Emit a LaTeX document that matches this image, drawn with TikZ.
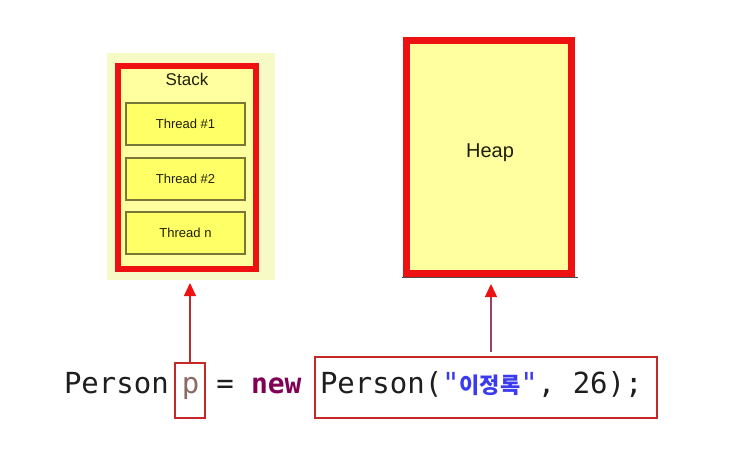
\documentclass[tikz,border=0pt]{standalone}
\usepackage{fontspec}
\setmainfont{Liberation Sans}
\newfontfamily\codefont{DejaVu Sans Mono}
\newfontfamily\kofont{Noto Sans CJK KR}
\usetikzlibrary{arrows.meta,calc}
\definecolor{stackbgcol}{HTML}{F8FAC6}
\definecolor{framered}{HTML}{EE1111}
\definecolor{inneryellow}{HTML}{FFFFA0}
\definecolor{threadyellow}{HTML}{FFFF66}
\definecolor{threadborder}{HTML}{77773A}
\definecolor{labeltext}{HTML}{20200A}
\definecolor{boxred}{HTML}{C62828}
\definecolor{arrowline}{HTML}{B03030}
\definecolor{arrowline2}{HTML}{A04060}
\definecolor{codetext}{HTML}{1E1E1E}
\definecolor{pcol}{HTML}{8C6A64}
\definecolor{kwcol}{HTML}{7F0055}
\definecolor{strblue}{HTML}{3A3AF0}
\tikzset{
  plainrect/.style={rectangle, inner sep=0pt, outer sep=0pt},
  framebox/.style={plainrect, draw=framered, line width=#1},
  threadbox/.style={plainrect, draw=threadborder, line width=1.2pt, fill=threadyellow,
    minimum width=119pt, minimum height=42pt, font=\fontsize{13}{15}\selectfont, text=labeltext},
  code/.style={inner sep=0pt, outer sep=0pt, font=\codefont\fontsize{29}{33}\selectfont, text=codetext},
  codebox/.style={plainrect, draw=boxred, line width=1.8pt},
  refarrow/.style={line width=1.3pt, -{Triangle[length=13pt,width=12pt,color=framered]}},
}
\begin{document}
\begin{tikzpicture}[x=1pt,y=-1pt]
\useasboundingbox (0,0) rectangle (756,460);
\fill[white] (0,0) rectangle (756,460);

% Stack
\node[plainrect, fill=stackbgcol, minimum width=168pt, minimum height=227pt] (stackbg) at (191,166.5) {};
\node[framebox=6pt, fill=inneryellow, minimum width=138pt, minimum height=203pt] (stack) at (187,167.5) {};
\node[font=\fontsize{17}{19}\selectfont, text=labeltext] (stacklabel) at (187,79.5) {Stack};
\node[threadbox] (t1) at (185.5,124) {Thread \#1};
\node[threadbox] (t2) at (185.5,179) {Thread \#2};
\node[threadbox] (tn) at (185.5,233) {Thread n};

% Heap
\node[framebox=7pt, fill=inneryellow, minimum width=165pt, minimum height=233pt] (heap) at (489,157) {};
\draw[black!70, line width=1.3pt] ($(heap.south west)+(-5,4)$) -- ($(heap.south east)+(6,4)$);
\node[font=\fontsize{20}{22}\selectfont, text=labeltext] (heaplabel) at (490,152.5) {Heap};

% Code line
\node[code, anchor=base west] (cperson) at (64,393) {Person};
\node[codebox, minimum width=30pt, minimum height=55pt] (pbox) at (190,390.5) {};
\node[code, anchor=base, text=pcol] (cp) at (190.5,393) {p};
\node[code, anchor=base] (ceq) at (225,393) {=};
\node[code, anchor=base west, text=kwcol, font=\codefont\bfseries\fontsize{28}{32}\selectfont] (cnew) at (251,393) {new};
\node[codebox, minimum width=342pt, minimum height=61pt] (objbox) at (486,387.5) {};
\node[code, anchor=base west] (cobj) at (320,393) {Person(\textcolor{strblue}{"{\kofont\bfseries\fontsize{22}{24}\selectfont 이정록}"}, 26);};

% Arrows
\draw[refarrow, draw=arrowline, shorten >=3pt] (pbox.north) -- (pbox.north |- stackbg.south);
\coordinate (harrow) at (491,352);
\draw[refarrow, draw=arrowline2, shorten >=10.5pt] (harrow) -- (harrow |- heap.south);
\end{tikzpicture}
\end{document}
